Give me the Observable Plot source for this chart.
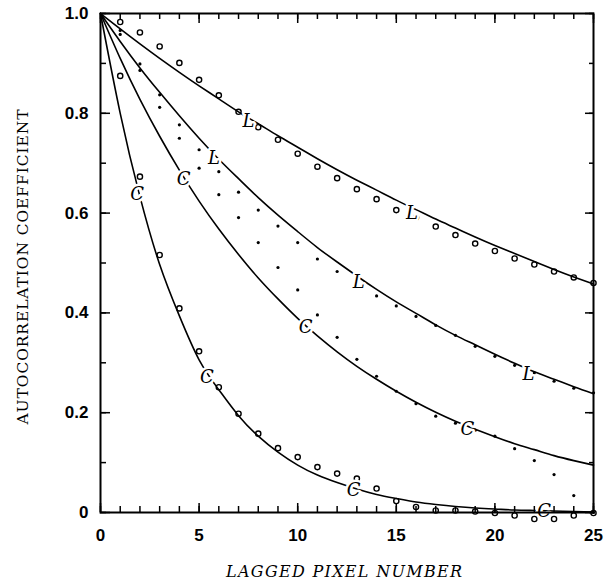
<!DOCTYPE html>
<html>
<head>
<meta charset="utf-8">
<script src="https://cdn.jsdelivr.net/npm/d3@7"></script>
<script src="https://cdn.jsdelivr.net/npm/@observablehq/plot@0.6"></script>
<style>
  body { margin: 0; background: #fff; }
  #chart svg { display: block; }
</style>
</head>
<body>
<div id="chart"></div>
<script>
// ---- data ----
const lag = [0,1,2,3,4,5,6,7,8,9,10,11,12,13,14,15,16,17,18,19,20,21,22,23,24,25];
const pointLag = [1,2,3,4,5,6,7,8,9,10,11,12,13,14,15,16,17,18,19,20,21,22,23,24,25];

// fitted curves (solid lines)
const curve1 = [1,.969,.939,.910,.882,.855,.829,.803,.779,.755,.732,.709,.687,.666,.646,.626,.607,.588,.570,.552,.535,.519,.503,.487,.472,.458];
const curve2 = [1,.944,.891,.842,.795,.750,.708,.669,.631,.596,.563,.531,.502,.474,.447,.422,.399,.376,.355,.336,.317,.299,.282,.267,.252,.238];
const curve3 = [1,.910,.828,.754,.686,.624,.568,.517,.470,.428,.389,.354,.322,.293,.267,.243,.221,.201,.183,.167,.152,.138,.126,.114,.104,.095];
const curve4 = [1,.800,.633,.497,.394,.306,.246,.194,.153,.121,.095,.075,.060,.047,.036,.028,.021,.016,.012,.009,.007,.005,.004,.003,.002,.001];

// measured points
const openA = [.983,.962,.934,.901,.867,.836,.803,.772,.747,.719,.693,.670,.648,.628,.606,.591,.573,.556,.539,.524,.509,.497,.483,.471,.460];
const dotsB = [.966,.899,.837,.777,.727,.683,.642,.606,.574,.541,.508,.483,.457,.434,.414,.393,.375,.355,.333,.313,.295,.280,.263,.249,.240];
const dotsC = [.958,.886,.812,.750,.690,.637,.591,.541,.491,.446,.396,.351,.307,.273,.243,.218,.193,.179,.165,.153,.128,.104,.076,.034,.000];
const openD = [.875,.673,.516,.409,.323,.251,.198,.158,.129,.111,.091,.078,.068,.048,.023,.011,.004,.004,.002,-.001,-.006,-.013,-.013,-.006,-.001];

// curve labels
const labelText = ["L","L","L","L","L","C","C","C","C","C","C","C"];
const labelX    = [7.5,15.8,5.75,13.1,21.7,4.22,10.4,18.6,1.86,5.4,12.84,22.5];
const labelY    = [.784,.600,.71,.462,.278,.667,.372,.166,.637,.272,.044,.003];

// axes
const xMinorTicks = [0,1,2,3,4,5,6,7,8,9,10,11,12,13,14,15,16,17,18,19,20,21,22,23,24,25];
const xMajorTicks = [0,5,10,15,20,25];
const xTickLabels = ["0","5","10","15","20","25"];
const yMinorTicks = [0,0.1,0.2,0.3,0.4,0.5,0.6,0.7,0.8,0.9,1.0];
const yMajorTicks = [0,0.2,0.4,0.6,0.8,1.0];
const yTickLabels = ["0","0.2","0.4","0.6","0.8","1.0"];
const xTitle = "LAGGED PIXEL NUMBER";
const yTitle = "AUTOCORRELATION COEFFICIENT";

// ---- build tables ----
const lines = [curve1, curve2, curve3, curve4].flatMap((c, k) => lag.map((x, i) => ({x, y: c[i], k})));
const tab = arr => pointLag.map((x, i) => ({x, y: arr[i]}));
const labels = labelText.map((t, i) => ({t, x: labelX[i], y: labelY[i]}));

const tickFont = {fontFamily: "Liberation Sans, Arial, sans-serif", fontSize: 17, fontWeight: "bold"};

const chart = Plot.plot({
  width: 613,
  height: 581,
  marginLeft: 100,
  marginRight: 20,
  marginTop: 13,
  marginBottom: 69,
  x: {domain: [0, 25]},
  y: {domain: [0, 1]},
  style: {background: "#fff", color: "#000"},
  marks: [
    Plot.line(lines, {x: "x", y: "y", z: "k", curve: "natural", stroke: "#000", strokeWidth: 1.6}),
    Plot.dot(tab(dotsB), {x: "x", y: "y", r: 1.6, fill: "#000", stroke: "none"}),
    Plot.dot(tab(dotsC), {x: "x", y: "y", r: 1.6, fill: "#000", stroke: "none"}),
    Plot.dot(tab(openA), {x: "x", y: "y", r: 2.6, fill: "none", stroke: "#000", strokeWidth: 1.4}),
    Plot.dot(tab(openD), {x: "x", y: "y", r: 2.6, fill: "none", stroke: "#000", strokeWidth: 1.4}),
    Plot.text(labels, {x: "x", y: "y", text: "t", fontFamily: "DejaVu Serif, serif", fontStyle: "italic",
      fontSize: 18, fill: "#000", stroke: "#fff", strokeWidth: 5}),
    // ticks (inward) on all four sides
    Plot.axisX({anchor: "bottom", ticks: xMinorTicks, tickSize: -6, tickFormat: () => "", label: null, strokeWidth: 1.5}),
    Plot.axisX({anchor: "bottom", ticks: xMajorTicks, tickSize: -9, tickFormat: () => "", label: null, strokeWidth: 1.5}),
    Plot.axisX({anchor: "top", ticks: xMinorTicks, tickSize: -5, tickFormat: () => "", label: null, strokeWidth: 1.5}),
    Plot.axisX({anchor: "top", ticks: xMajorTicks, tickSize: -9, tickFormat: () => "", label: null, strokeWidth: 1.5}),
    Plot.axisY({anchor: "left", ticks: yMinorTicks, tickSize: -6, tickFormat: () => "", label: null, strokeWidth: 1.5}),
    Plot.axisY({anchor: "left", ticks: yMajorTicks, tickSize: -10, tickFormat: () => "", label: null, strokeWidth: 1.5}),
    Plot.axisY({anchor: "right", ticks: yMinorTicks, tickSize: -5, tickFormat: () => "", label: null, strokeWidth: 1.5}),
    Plot.axisY({anchor: "right", ticks: yMajorTicks, tickSize: -9, tickFormat: () => "", label: null, strokeWidth: 1.5}),
    // tick labels
    Plot.axisX({anchor: "bottom", ticks: xMajorTicks, tickSize: 0, tickPadding: 16, label: null,
      tickFormat: (d, i) => xTickLabels[i], ...tickFont}),
    Plot.axisY({anchor: "left", ticks: yMajorTicks, tickSize: 0, tickPadding: 12, label: null,
      tickFormat: (d, i) => yTickLabels[i], ...tickFont}),
    Plot.frame({stroke: "#000", strokeWidth: 2}),
    // axis titles
    Plot.text([xTitle], {frameAnchor: "bottom", dx: -3, dy: 64, text: d => d, textAnchor: "middle",
      fontFamily: "DejaVu Serif, serif", fontStyle: "italic", fontSize: 16, fill: "#000"}),
    Plot.text([yTitle], {frameAnchor: "left", dx: -77, dy: 4, rotate: -90, text: d => d, textAnchor: "middle",
      fontFamily: "DejaVu Serif, serif", fontSize: 15.5, fill: "#000"})
  ]
});
// stretch the axis titles to the widths they have in the reference
d3.select(chart).selectAll("text").each(function () {
  const t = this.textContent;
  if (t === xTitle) d3.select(this).attr("textLength", 236).attr("lengthAdjust", "spacing");
  if (t === yTitle) d3.select(this).attr("textLength", 315).attr("lengthAdjust", "spacing");
});
document.getElementById("chart").appendChild(chart);
</script>
</body>
</html>
